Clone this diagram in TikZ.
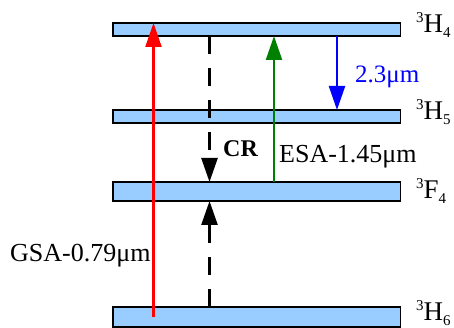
\documentclass[tikz,border=0pt]{standalone}
\usepackage{fontspec}
\setmainfont{Liberation Serif}
\usetikzlibrary{arrows.meta}
\definecolor{barfill}{RGB}{153,204,255}
\definecolor{esagreen}{RGB}{0,128,0}
\newcommand{\lvlname}[3]{{\fontsize{15}{15}\selectfont\raisebox{10pt}{#1}}#2{\fontsize{15}{15}\selectfont\raisebox{-5pt}{#3}}}
\begin{document}
\begin{tikzpicture}[x=1pt,y=-1pt,
  bar/.style={draw=black,line width=1.5pt,fill=barfill,inner sep=0pt,outer sep=0pt,minimum width=287.5pt},
  tip/.style={-{Triangle[width=16pt,length=24pt]}},
  dashtrans/.style={tip,black,line width=2.5pt,dash pattern=on 18pt off 14pt},
  lbl/.style={anchor=base west,inner sep=0pt,font=\fontsize{26}{26}\selectfont},
  lvl/.style={anchor=base west,inner sep=0pt,font=\fontsize{27}{27}\selectfont}]
\useasboundingbox (0,0) rectangle (454,328);
\node[bar,minimum height=13pt] (h4) at (256.75,29.5) {};
\node[bar,minimum height=13pt] (h5) at (256.75,116.5) {};
\node[bar,minimum height=19pt] (f4) at (256.75,191.5) {};
\node[bar,minimum height=20pt] (h6) at (256.75,317) {};
\coordinate (xr) at (153.5,0);
\coordinate (xg) at (274,0);
\coordinate (xb) at (337,0);
\coordinate (xk) at (209.5,0);
\draw[tip,red,line width=2.2pt] (xr |- h6.center) -- (xr |- h4.north);
\draw[tip,esagreen,line width=2.2pt] (xg |- f4.north) -- (xg |- h4.south);
\draw[tip,blue,line width=2.2pt] (xb |- h4.south) -- (xb |- h5.north);
\draw[dashtrans] (xk |- h4.south) -- (xk |- f4.north);
\draw[dashtrans] (xk |- h6.north) -- (xk |- f4.south);
\node[lbl] (gsa) at (10,261.5) {GSA-0.79μm};
\node[lbl] (esa) at (279,162.5) {ESA-1.45μm};
\node[lbl,font=\fontsize{24}{24}\selectfont\bfseries] (cr) at (223,156.7) {CR};
\node[lbl,blue,font=\fontsize{25}{25}\selectfont] (em) at (355,82.3) {2.3μm};
\node[lvl] (l4) at (416,33) {\lvlname{3}{H}{4}};
\node[lvl] (l5) at (416,120) {\lvlname{3}{H}{5}};
\node[lvl] (l3) at (416,199) {\lvlname{3}{F}{4}};
\node[lvl] (l6) at (416,320) {\lvlname{3}{H}{6}};
\end{tikzpicture}
\end{document}
